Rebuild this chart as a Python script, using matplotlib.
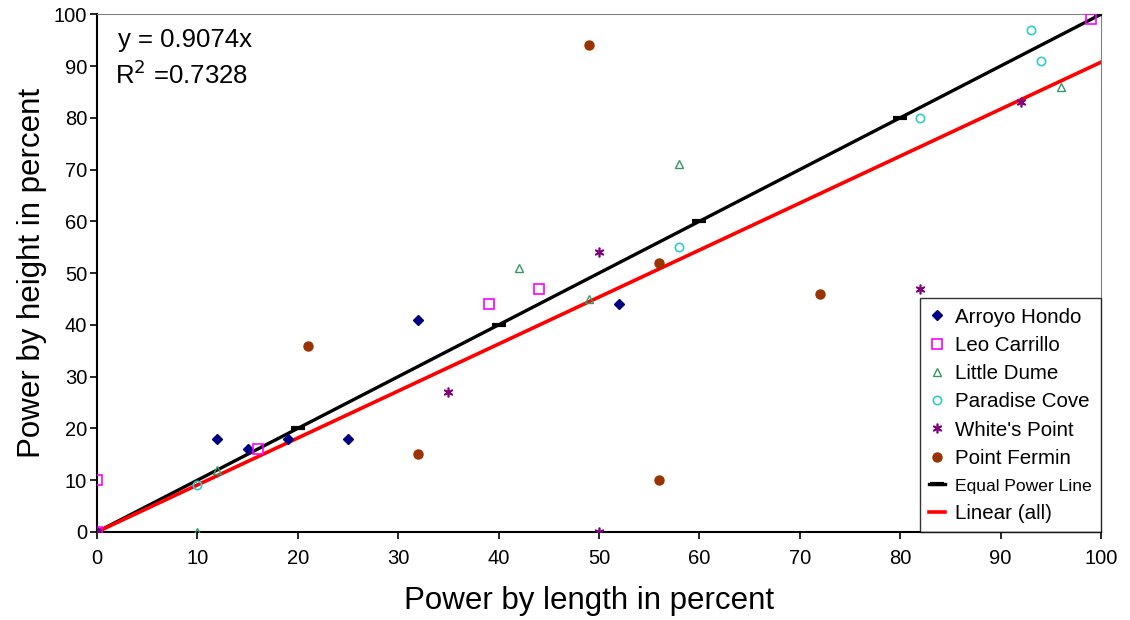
import numpy as np
import matplotlib.pyplot as plt

plt.rcParams['font.family'] = ['Liberation Sans', 'DejaVu Sans']

# datos (x = potencia por longitud, y = potencia por altura)
arroyo_x = [0, 12, 15, 19, 25, 32, 52]
arroyo_y = [0, 18, 16, 18, 18, 41, 44]
leo_x = [0, 0, 16, 39, 44, 99]
leo_y = [0, 10, 16, 44, 47, 99]
dume_x = [10, 12, 42, 49, 58, 96]
dume_y = [0, 12, 51, 45, 71, 86]
cove_x = [10, 58, 82, 93, 94]
cove_y = [9, 55, 80, 97, 91]
whites_x = [0, 35, 50, 50, 82, 92]
whites_y = [0, 27, 54, 0, 47, 83]
fermin_x = [21, 32, 49, 56, 56, 72]
fermin_y = [36, 15, 94, 52, 10, 46]
equal_x = [0, 20, 40, 60, 80, 100]
slope = 0.9074
r2 = 0.7328

fig = plt.figure(figsize=(11.3, 6.2), dpi=100)
ax = fig.add_axes([0.0858, 0.142, 0.8885, 0.835])

ax.plot(arroyo_x, arroyo_y, 'D', color='#000080', markersize=5, linestyle='none', label='Arroyo Hondo', zorder=4)
ax.plot(leo_x, leo_y, 's', mfc='none', mec='#ff00ff', markersize=7, mew=1.2, linestyle='none', label='Leo Carrillo', zorder=4)
ax.plot(dume_x, dume_y, '^', mfc='none', mec='#339966', markersize=6, mew=1.0, linestyle='none', label='Little Dume', zorder=4)
ax.plot(cove_x, cove_y, 'o', mfc='none', mec='#33cccc', markersize=6, mew=1.2, linestyle='none', label='Paradise Cove', zorder=4)
ax.plot(whites_x, whites_y, marker=(6, 2, 0), color='#800080', markersize=7, mew=1.2, linestyle='none', label="White's Point", zorder=4)
ax.plot(fermin_x, fermin_y, 'o', color='#993300', markersize=6.5, linestyle='none', label='Point Fermin', zorder=4)
ax.plot(equal_x, equal_x, '-', marker='_', color='black', linewidth=2.4, markersize=10, mew=3, label='Equal Power Line', zorder=3)
xf = np.array([0, 100])
ax.plot(xf, slope * xf, '-', color='#ff0000', linewidth=2.6, label='Linear (all)', zorder=3)

ax.text(0.021, 0.95, 'y = %.4fx' % slope, transform=ax.transAxes, fontsize=18.5, va='center')
ax.text(0.018, 0.883, 'R$^2$ =%.4f' % r2, transform=ax.transAxes, fontsize=18.5, va='center')

ax.set_xlim(0, 100)
ax.set_ylim(0, 100)
ax.set_xticks(range(0, 101, 10))
ax.set_yticks(range(0, 101, 10))
ax.tick_params(direction='out', labelsize=14.5, length=5, width=1.2)
ax.tick_params(axis='x', pad=7)
ax.tick_params(axis='y', pad=2)
for s in ['top', 'right']:
    ax.spines[s].set_color('#808080')
for s in ['left', 'bottom']:
    ax.spines[s].set_linewidth(1.5)

ax.set_xlabel('Power by length in percent', fontsize=22.5, labelpad=13)
ax.xaxis.label.set_x(0.49)
ax.set_ylabel('Power by height in percent', fontsize=22.5, labelpad=5)

leg = ax.legend(loc='lower right', fontsize=14.8, frameon=True, fancybox=False,
                edgecolor='black', borderaxespad=0, handlelength=0.75,
                handletextpad=0.5, labelspacing=0.45, borderpad=0.45)
leg.get_frame().set_linewidth(1.0)
leg.get_texts()[6].set_fontsize(12.6)

fig.savefig('out.png', dpi=100)
